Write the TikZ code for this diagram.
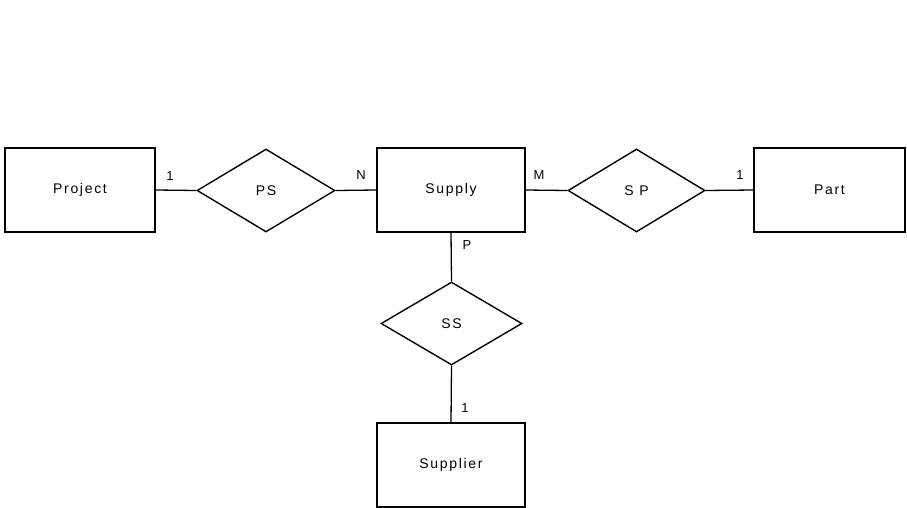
\documentclass[tikz,border=0pt]{standalone}
\usepackage{fontspec}
\setmainfont{Liberation Sans}[LetterSpace=12]
\usetikzlibrary{shapes.geometric}
\begin{document}
\begin{tikzpicture}[x=1pt,y=-1pt,
  entity/.style={draw, line width=1.3pt, rectangle, minimum width=150pt, minimum height=84pt, inner sep=0pt, font=\fontsize{14}{16}\selectfont},
  relation/.style={draw, line width=1.4pt, diamond, minimum width=138pt, minimum height=83pt, inner sep=0pt, font=\fontsize{14}{16}\selectfont},
  conn/.style={line width=1.3pt},
  card/.style={inner sep=0pt, font=\fontsize{13}{15}\selectfont}]
\useasboundingbox (0,0) rectangle (907,508);
\node[entity] (project) at (80,190) {Project};
\node[entity, minimum width=148pt] (supply) at (451,190) {Supply};
\node[entity, minimum width=151pt] (part) at (829.5,190) {Part};
\node[entity, minimum width=148pt] (supplier) at (451,465) {Supplier};
\node[relation] (ps) at (266,190.5) {PS};
\node[relation, minimum width=137pt] (sp) at (636.5,190.5) {S P};
\node[relation, minimum width=141pt] (ss) at (451.5,323.5) {SS};
\draw[conn] (project.east) -- (ps.west);
\draw[conn] (ps.east) -- (supply.west);
\draw[conn] (supply.east) -- (sp.west);
\draw[conn] (sp.east) -- (part.west);
\draw[conn] (supply.south) -- (ss.north);
\draw[conn] (ss.south) -- (supplier.north);
\node[card] (c1) at (170,176) {1};
\node[card] (cN) at (361,175) {N};
\node[card] (cM) at (539,175) {M};
\node[card] (c2) at (740,175) {1};
\node[card] (cP) at (467,245) {P};
\node[card] (c3) at (465,408) {1};
\end{tikzpicture}
\end{document}
